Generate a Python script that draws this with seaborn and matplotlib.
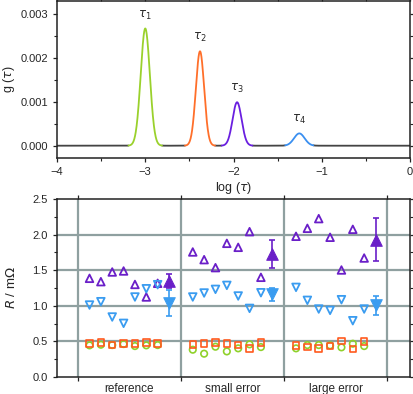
import numpy as np
import pandas as pd
import matplotlib
matplotlib.use("Agg")
import matplotlib.pyplot as plt
import seaborn as sns
from matplotlib.ticker import MultipleLocator, FormatStrFormatter

# ---- top panel: relaxation time distribution (gaussian peaks) ----
peak_labels = [r"$\tau_1$", r"$\tau_2$", r"$\tau_3$", r"$\tau_4$"]
peak_centers = [-3.00, -2.38, -1.96, -1.255]
peak_heights = [0.00267, 0.00215, 0.00099, 0.00028]
peak_sigmas = [0.052, 0.047, 0.051, 0.060]
peak_halfspan = [0.19, 0.17, 0.175, 0.16]
peak_colors = ["#9ad12c", "#ff6f2a", "#6a1fe0", "#3a8ff0"]

# ---- bottom panel: resistances per scenario ----
groups = ["reference", "small error", "large error"]
r_up = [
    [1.386, 1.339, 1.475, 1.489, 1.300, 1.124, 1.316],
    [1.756, 1.648, 1.536, 1.877, 1.821, 2.041, 1.400],
    [1.976, 2.088, 2.224, 1.962, 1.503, 2.074, 1.671],
]
r_up_mean = [1.35, 1.728, 1.929]
r_up_err = [0.10, 0.20, 0.30]
r_down = [
    [1.011, 1.058, 0.843, 0.754, 1.124, 1.240, 1.297],
    [1.124, 1.180, 1.231, 1.287, 1.138, 0.964, 1.184],
    [1.259, 1.077, 0.955, 0.936, 1.086, 0.791, 0.955],
]
r_down_mean = [1.044, 1.161, 1.007]
r_down_err = [0.18, 0.095, 0.135]
r_square = [
    [0.473, 0.482, 0.449, 0.468, 0.468, 0.482, 0.468],
    [0.459, 0.468, 0.482, 0.468, 0.449, 0.398, 0.487],
    [0.445, 0.421, 0.403, 0.435, 0.506, 0.393, 0.496],
]
r_circle = [
    [0.445, 0.454, 0.449, 0.463, 0.435, 0.445, 0.449],
    [0.384, 0.328, 0.426, 0.360, 0.403, 0.459, 0.421],
    [0.403, 0.449, 0.449, 0.445, 0.417, 0.468, 0.435],
]

sns.set_theme(style="ticks")
plt.rcParams["font.family"] = ["Liberation Sans", "DejaVu Sans"]
plt.rcParams["mathtext.fontset"] = "dejavusans"
plt.rcParams["xtick.labelsize"] = 8
plt.rcParams["ytick.labelsize"] = 8

fig = plt.figure(figsize=(4.13, 3.94), dpi=100)
ax1 = fig.add_axes([0.138, 0.599, 0.855, 0.399])
ax2 = fig.add_axes([0.138, 0.043, 0.855, 0.452])

# top panel
x = np.linspace(-4, 0, 2001)
g = np.zeros_like(x)
in_peak = np.zeros_like(x, dtype=bool)
for c, h, s, hs in zip(peak_centers, peak_heights, peak_sigmas, peak_halfspan):
    g += h * np.exp(-0.5 * ((x - c) / s) ** 2)
    in_peak |= (x > c - hs) & (x < c + hs)
base = np.where(in_peak, np.nan, g)
ax1.plot(x, base, color="#444444", lw=1.3)
for lab, c, h, hs, col in zip(peak_labels, peak_centers, peak_heights, peak_halfspan, peak_colors):
    m = (x >= c - hs) & (x <= c + hs)
    sns.lineplot(x=x[m], y=g[m], ax=ax1, color=col, lw=1.3)
    ax1.annotate(lab, (c, h), xytext=(0, 5), textcoords="offset points",
                 ha="center", va="bottom", fontsize=8.5)
ax1.set_xlim(-4, 0)
ax1.set_ylim(-0.00028, 0.0033)
ax1.xaxis.set_major_locator(MultipleLocator(1))
ax1.xaxis.set_minor_locator(MultipleLocator(0.5))
ax1.yaxis.set_major_locator(MultipleLocator(0.001))
ax1.yaxis.set_minor_locator(MultipleLocator(0.0005))
ax1.yaxis.set_major_formatter(FormatStrFormatter("%.3f"))
ax1.set_xlabel(r"log ($\tau$)", fontsize=9, labelpad=2)
ax1.set_ylabel(r"g ($\tau$)", fontsize=9)
ax1.yaxis.set_label_coords(-0.112, 0.5)

# bottom panel
ax2.set_axisbelow(True)
for v in [0, 1, 2, 3]:
    ax2.axvline(v, color="#8fa0a0", lw=1.6, zorder=0)
for v in [0.5, 1.0, 1.5, 2.0]:
    ax2.axhline(v, color="#8fa0a0", lw=1.6, zorder=0)

offsets = 0.115 + 0.11 * np.arange(7)
mean_off = 0.885
c_up, c_down, c_sq, c_ci = "#6a1fc8", "#3a9cf0", "#ff5a1e", "#8fd12a"
for gi in range(len(groups)):
    xs = gi + offsets
    sns.scatterplot(x=xs, y=r_circle[gi], ax=ax2, marker="o", s=22,
                    facecolor="none", edgecolor=c_ci, linewidth=1.2, zorder=3)
    sns.scatterplot(x=xs, y=r_square[gi], ax=ax2, marker="s", s=22,
                    facecolor="none", edgecolor=c_sq, linewidth=1.2, zorder=4)
    sns.scatterplot(x=xs, y=r_up[gi], ax=ax2, marker="^", s=30,
                    facecolor="none", edgecolor=c_up, linewidth=1.3, zorder=4)
    sns.scatterplot(x=xs, y=r_down[gi], ax=ax2, marker="v", s=30,
                    facecolor="none", edgecolor=c_down, linewidth=1.3, zorder=5)
    xm = gi + mean_off
    ax2.errorbar(xm, r_up_mean[gi], yerr=r_up_err[gi], fmt="none", ecolor=c_up,
                 elinewidth=1.2, capsize=2.5, capthick=1.2, zorder=5)
    ax2.errorbar(xm, r_down_mean[gi], yerr=r_down_err[gi], fmt="none", ecolor=c_down,
                 elinewidth=1.2, capsize=2.5, capthick=1.2, zorder=5)
    sns.scatterplot(x=[xm], y=[r_up_mean[gi]], ax=ax2, marker="^", s=70,
                    color=c_up, edgecolor=c_up, zorder=6)
    sns.scatterplot(x=[xm], y=[r_down_mean[gi]], ax=ax2, marker="v", s=70,
                    color=c_down, edgecolor=c_down, zorder=6)

ax2.set_xlim(-0.2, 3.22)
ax2.set_ylim(0, 2.5)
ax2.set_xticks([0, 1, 2, 3])
ax2.set_xticklabels([])
ax2.set_xticks([0.5, 1.5, 2.5], minor=True)
ax2.set_xticklabels(groups, minor=True, fontsize=8.5)
ax2.tick_params(axis="x", which="minor", length=0, pad=4)
ax2.yaxis.set_major_locator(MultipleLocator(0.5))
ax2.yaxis.set_minor_locator(MultipleLocator(0.25))
ax2.yaxis.set_major_formatter(FormatStrFormatter("%.1f"))
ax2.set_ylabel(r"$R$ / m$\Omega$", fontsize=9.5)
ax2.yaxis.set_label_coords(-0.11, 0.5)
ax2.set_xlabel("")

for ax in (ax1, ax2):
    for sp in ax.spines.values():
        sp.set_visible(True)
        sp.set_color("#222222")
        sp.set_linewidth(1.1)
    ax.tick_params(which="major", direction="out", length=3, width=0.9, color="#222222")
    ax.tick_params(which="minor", direction="out", length=2, width=0.8, color="#222222")
    ax.tick_params(right=True, top=True, which="both")
ax2.tick_params(axis="x", which="minor", length=0, top=False)

fig.savefig("out.png", dpi=100)
